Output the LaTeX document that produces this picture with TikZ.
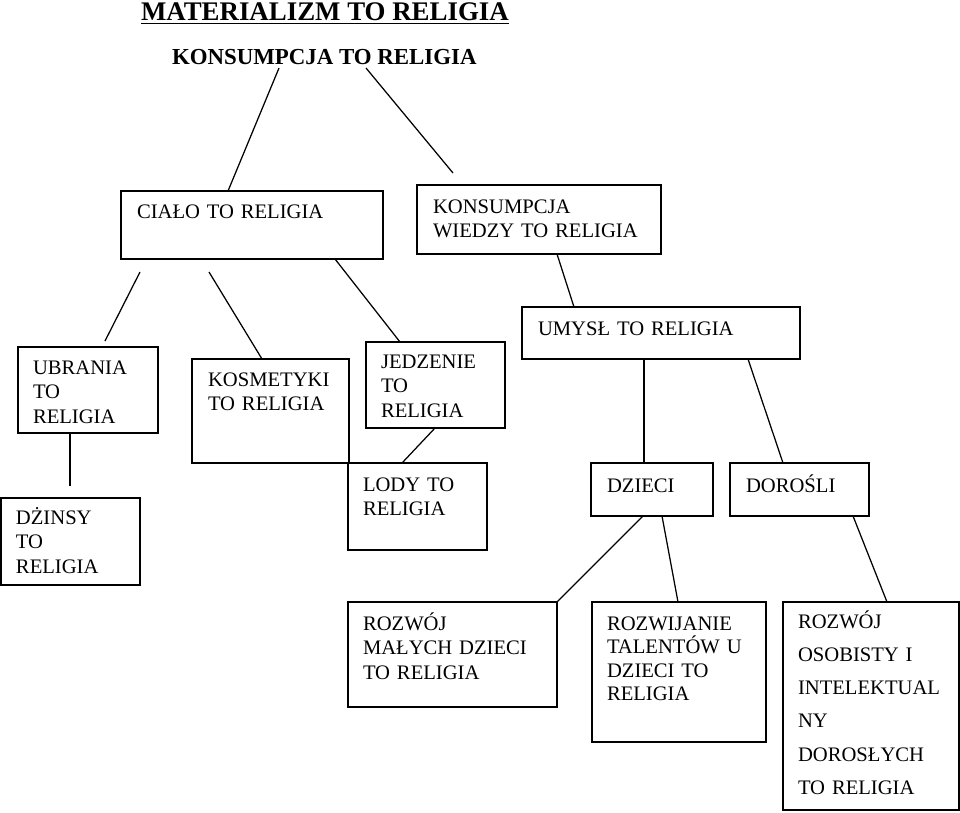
\documentclass[tikz,border=0pt]{standalone}
\usepackage{fontspec}
\setmainfont{Liberation Serif}
\usetikzlibrary{fit,calc}

\tikzset{
  box/.style={draw=black, line width=1.1pt, inner sep=0pt, outer sep=0pt},
  link/.style={draw=black, line width=1pt, line cap=butt},
  txt/.style={anchor=base west, align=left, text width=230pt,
    font=\fontsize{16.5}{19.6}\selectfont},
}

\begin{document}
\begin{tikzpicture}[y=0.80pt, x=0.8pt, yscale=-1, inner sep=0pt, outer sep=0pt]
\useasboundingbox (0,0) rectangle (960,812);

  % headings
  \node[anchor=base west, font=\bfseries\fontsize{21.5}{24}\selectfont]
    (title) at (141,20) {MATERIALIZM TO RELIGIA};
  \draw[line width=1.5pt] ($(title.base west)+(0,3.5)$) --
    ($(title.base east)+(0,3.5)$);
  \node[anchor=base west, font=\bfseries\fontsize{18.3}{22}\selectfont]
    (sub) at (172,64) {KONSUMPCJA TO RELIGIA};

  % boxes
  \node[box, fit={(121,191) (383,259)}] (cialo) {};
  \node[box, fit={(417,185) (661,254)}] (wiedza) {};
  \node[box, fit={(18,347) (158,433)}] (ubr) {};
  \node[box, fit={(192,359) (349,463)}] (kosm) {};
  \node[box, fit={(366,342) (505,428)}] (jedz) {};
  \node[box, fit={(522,307) (800,359)}] (umysl) {};
  \node[box, fit={(1,498) (140,585)}] (dzinsy) {};
  \node[box, fit={(348,463) (487,550)}] (lody) {};
  \node[box, fit={(591,463) (713,516)}] (dzieci) {};
  \node[box, fit={(730,463) (869,516)}] (dorosli) {};
  \node[box, fit={(348,602) (557,707)}] (rozwoj) {};
  \node[box, fit={(592,602) (766,742)}] (talenty) {};
  \node[box, fit={(783,602) (959,810)}] (osob) {};

  % texts
  \node[txt] (cialo-t) at (137,218) {CIAŁO TO RELIGIA};
  \node[txt] (wiedza-t) at (433,213) {KONSUMPCJA\\WIEDZY TO RELIGIA};
  \node[txt] (ubr-t) at (33,374) {UBRANIA\\TO\\RELIGIA};
  \node[txt] (kosm-t) at (208,386) {KOSMETYKI\\TO RELIGIA};
  \node[txt] (jedz-t) at (381,368) {JEDZENIE\\TO\\RELIGIA};
  \node[txt] (umysl-t) at (538,335) {UMYSŁ TO RELIGIA};
  \node[txt] (dzinsy-t) at (16,524) {DŻINSY\\TO\\RELIGIA};
  \node[txt] (lody-t) at (363,491) {LODY TO\\RELIGIA};
  \node[txt] (dzieci-t) at (607,492) {DZIECI};
  \node[txt] (dorosli-t) at (746,492) {DOROŚLI};
  \node[txt] (rozwoj-t) at (363,630) {ROZWÓJ\\MAŁYCH DZIECI\\TO RELIGIA};
  \node[txt, font=\fontsize{16.5}{18.8}\selectfont] (talenty-t) at (607,630)
    {ROZWIJANIE\\TALENTÓW U\\DZIECI TO\\RELIGIA};
  \node[txt, font=\fontsize{16.5}{26.6}\selectfont] (osob-t) at (798,628)
    {ROZWÓJ\\OSOBISTY I\\INTELEKTUAL\\NY\\DOROSŁYCH\\TO RELIGIA};

  % free line ends
  \coordinate (t1) at (279,68);
  \coordinate (t2) at (366,68);
  \coordinate (t3) at (453,173);
  \coordinate (c1) at (140,272);
  \coordinate (c2) at (105,341);
  \coordinate (c3) at (209,272);
  \coordinate (u1) at (70,486);

  % lines
  \draw[link] (t1) -- (cialo.north -| 228,0);
  \draw[link] (t2) -- (t3);
  \draw[link] (c1) -- (c2);
  \draw[link] (c3) -- (kosm.north -| 262,0);
  \draw[link] (cialo.south -| 335,0) -- (jedz.north -| 400,0);
  \draw[link] (jedz.south -| 435,0) -- (lody.north -| 402,0);
  \draw[link] (ubr.south -| 70,0) -- (u1);
  \draw[link] (wiedza.south -| 557,0) -- (umysl.north -| 574,0);
  \draw[link] (umysl.south -| 644,0) -- (dzieci.north -| 644,0);
  \draw[link] (umysl.south -| 748,0) -- (dorosli.north -| 783,0);
  \draw[link] (dzieci.south -| 643,0) -- (rozwoj.north east);
  \draw[link] (dzieci.south -| 662,0) -- (talenty.north -| 678,0);
  \draw[link] (dorosli.south -| 853,0) -- (osob.north -| 887,0);
\end{tikzpicture}
\end{document}
